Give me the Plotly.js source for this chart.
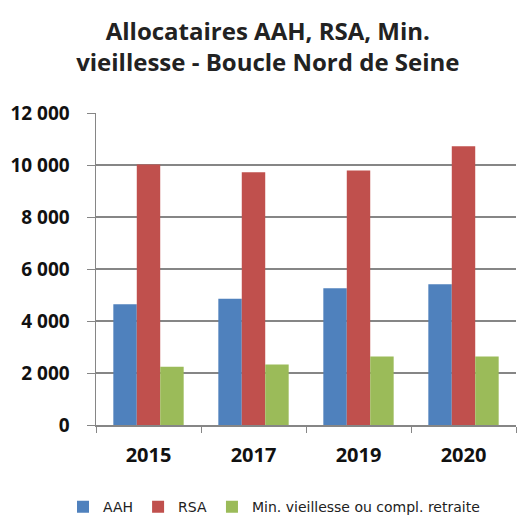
<!DOCTYPE html>
<html><head><meta charset="utf-8">
<script src="https://cdn.plot.ly/plotly-3.0.1.min.js"></script>
<style>html,body{margin:0;padding:0;background:#fff}#c{width:517px;height:516px}</style>
</head><body><div id="c"></div>
<script>
const years = ["2015", "2017", "2019", "2020"];
const aah = [4640, 4860, 5260, 5410];
const rsa = [10020, 9720, 9790, 10720];
const minVieillesse = [2240, 2330, 2630, 2630];
const seriesNames = ["AAH", "RSA", "Min. vieillesse ou compl. retraite"];
const colors = ["#4F81BD", "#C0504D", "#9BBB59"];
const yTicks = [0, 2000, 4000, 6000, 8000, 10000, 12000];

const font = "'Open Sans', Lato, sans-serif";
const data = [aah, rsa, minVieillesse].map((v, i) => ({
  type: "bar", x: years, y: v, name: seriesNames[i],
  marker: {color: colors[i]}, hoverinfo: "y"
}));
Plotly.newPlot("c", data, {
  width: 517, height: 516,
  margin: {l: 96, r: 1, t: 113, b: 91},
  separators: ", ",
  paper_bgcolor: "#fff", plot_bgcolor: "#fff",
  font: {family: font, color: "#000"},
  title: {text: "<b>Allocataires AAH, RSA, Min.<br>vieillesse - Boucle Nord de Seine</b>",
    font: {size: 24, family: font, color: "#222"},
    x: 0.518, xanchor: "center", y: 0.922, yanchor: "middle", yref: "container"},
  barmode: "group", bargap: 0.33, bargroupgap: 0,
  xaxis: {type: "category", tickson: "boundaries", ticks: "outside", ticklen: 6,
    tickcolor: "#868686", showline: true, linecolor: "#868686", linewidth: 1.5,
    ticklabelstandoff: 11,
    tickfont: {size: 20, family: font, color: "#111", weight: "bold"}, showgrid: false},
  yaxis: {range: [0, 12000], tickvals: yTicks, tickformat: ",d", ticks: "outside", ticklen: 8,
    tickcolor: "#868686", showline: true, linecolor: "#868686", linewidth: 1.5,
    gridcolor: "#868686", gridwidth: 1.5, zeroline: false, ticklabelstandoff: 13,
    tickfont: {size: 19, family: font, color: "#111", weight: "bold"}},
  showlegend: true,
  legend: {orientation: "h", xref: "container", yref: "container", x: 0.53, xanchor: "center",
    y: 0.017, yanchor: "middle", font: {size: 14, family: "'DejaVu Sans', sans-serif", color: "#222"},
    itemwidth: 30, tracegroupgap: 0, traceorder: "normal"}
}, {displayModeBar: false, staticPlot: true});
</script></body></html>
